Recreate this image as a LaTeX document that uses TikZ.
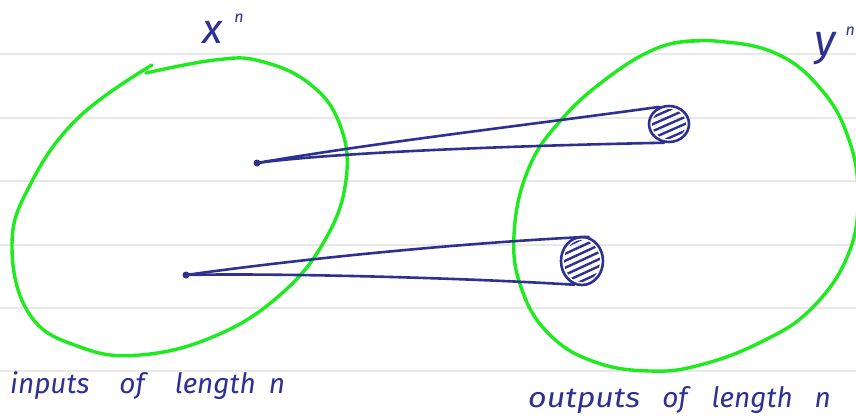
\documentclass[tikz,border=0pt]{standalone}
\usepackage{fontspec}
\newfontfamily\handfont{Fira Sans}
\usetikzlibrary{shapes.geometric}
\definecolor{ink}{RGB}{46,48,146}
\definecolor{grn}{RGB}{30,235,30}
\definecolor{rulec}{RGB}{232,232,232}
\begin{document}
\begin{tikzpicture}[x=1pt,y=-1pt,
  ruleline/.style={rulec, line width=2},
  loop/.style={grn, line width=3.4, line cap=round, line join=round},
  wire/.style={ink, line width=2.6, line cap=round},
  dotnode/.style={circle, fill=ink, inner sep=0, minimum size=7},
  blob/.style={ellipse, draw=ink, line width=2.6, inner sep=0},
  hatch/.style={ink, line width=2.4, line cap=round},
  hand/.style={ink, font=\handfont\fontsize{28}{28}\selectfont\itshape, inner sep=0}]
\useasboundingbox (0,0) rectangle (856,418);
\fill[white] (0,0) rectangle (856,418);
% ruled paper
\foreach \yy in {54,118,181,245,308,371}
  \draw[ruleline] (0,\yy) -- (856,\yy);
% left set
\draw[loop] plot[smooth, tension=0.7] coordinates {(152,65) (78,118) (30,185) (12,246) (30,315) (80,347) (140,355) (215,336) (280,295) (325,240) (346,180) (340,125) (310,84) (260,61) (215,60) (146,73)};
% right set
\draw[loop] plot[smooth, tension=0.7] coordinates {(673,43) (715,41) (775,53) (820,88) (848,137) (858,195) (848,255) (811,309) (761,342) (700,365) (650,371) (595,362) (550,335) (522,290) (514,235) (528,170) (561,120) (610,76) (660,47) (700,41)};
% points
\node[dotnode] (d1) at (257,163) {};
\node[dotnode] (d2) at (186,275) {};
% images
\node[blob, minimum width=40, minimum height=36] (b1) at (669,124) {};
\node[blob, minimum width=42, minimum height=48] (b2) at (582,261) {};
\begin{scope}
  \clip (669,124) ellipse [x radius=17, y radius=15];
  \foreach \d in {-14,-7,0,7,14}
    \draw[hatch] (644,{124+\d+11}) -- ++(50,-22);
\end{scope}
\begin{scope}
  \clip (582,261) ellipse [x radius=18, y radius=21];
  \foreach \d in {-21,-14,-7,0,7,14,21}
    \draw[hatch] (556,{261+\d+11}) -- ++(52,-24);
\end{scope}
% connectors
\draw[wire] (d1.center) .. controls (380,142) and (520,126) .. (b1.120);
\draw[wire] (d1.center) .. controls (330,153) and (500,146) .. (b1.255);
\draw[wire] (d2.center) .. controls (300,259) and (460,243) .. (b2.75);
\draw[wire] (d2.center) .. controls (260,273) and (450,277) .. (b2.252);
% labels
\node[hand, anchor=base west] (xl) at (202,43) {{\fontsize{42}{42}\selectfont x}\hspace{12pt}\raisebox{21pt}{\fontsize{16}{16}\selectfont n}};
\node[hand, anchor=base west] (yl) at (814,55) {{\fontsize{44}{44}\selectfont y}\hspace{10pt}\raisebox{20pt}{\fontsize{16}{16}\selectfont n}};
\node[hand, anchor=base west] (il) at (10,393) {inputs\hspace{30pt}of\hspace{30pt}length\hspace{13pt}n};
\node[hand, anchor=base west] (ol) at (528,407) {\scalebox{1.15}[1]{outputs}\hspace{22pt}of\hspace{24pt}length\hspace{22pt}n};
\end{tikzpicture}
\end{document}
